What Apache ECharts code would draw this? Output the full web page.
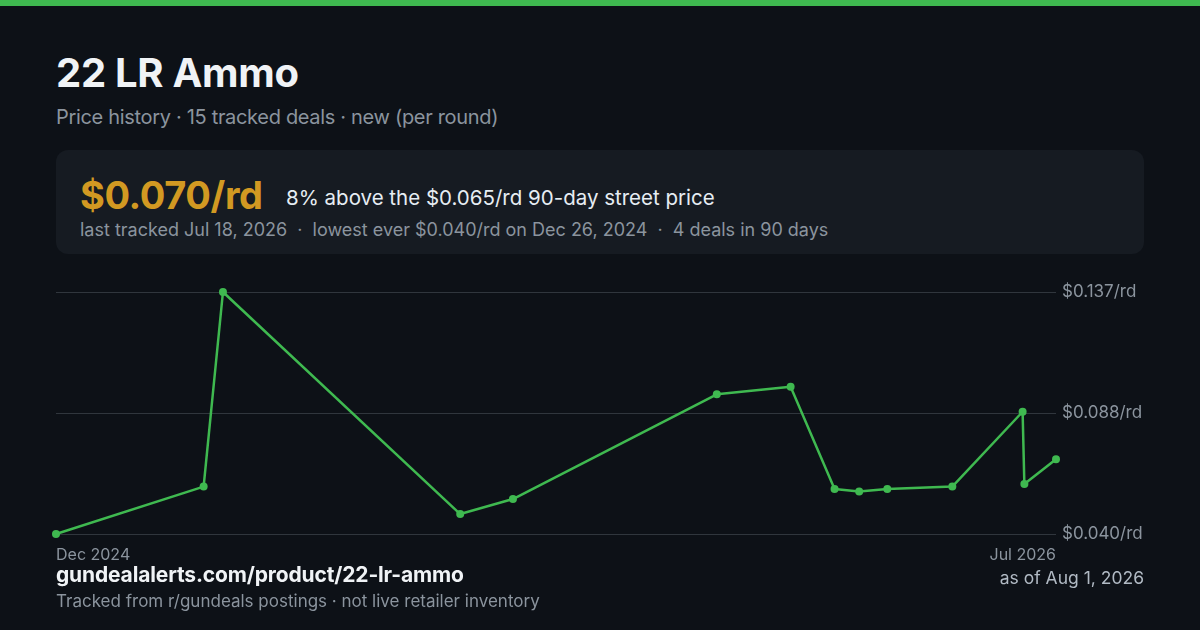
<!DOCTYPE html>
<html>
<head>
<meta charset="utf-8">
<script src="https://cdn.jsdelivr.net/npm/echarts@6/dist/echarts.min.js"></script>
<style>
  html, body { margin: 0; padding: 0; background: #0d1117; }
  body { width: 1200px; height: 630px; position: relative; overflow: hidden; font-family: Inter, "Noto Sans", sans-serif; }
  .topbar { position: absolute; left: 0; top: 0; width: 1200px; height: 6px; background: #3fb950; }
  .abs { position: absolute; white-space: nowrap; }
  #title { left: 56px; top: 48px; font-size: 40px; font-weight: 700; color: #f0f3f6; letter-spacing: -0.3px; }
  #subtitle { left: 56px; top: 105px; font-size: 20px; color: #8b949e; letter-spacing: -0.32px; }
  #card { left: 56px; top: 150px; width: 1088px; height: 104px; background: #161b22; border-radius: 12px; }
  #price { left: 80px; top: 172px; font-size: 38px; font-weight: 700; color: #d29922; letter-spacing: -0.4px; }
  #compare { left: 286px; top: 185px; font-size: 20.5px; color: #e6edf3; }
  #meta { left: 80px; top: 219px; font-size: 18px; color: #8b949e; }
  #url { left: 56px; top: 562px; font-size: 21px; font-weight: 700; color: #f0f3f6; letter-spacing: -0.15px; }
  #asof { right: 56px; top: 567px; font-size: 17.5px; color: #b1bac4; }
  #note { left: 56px; top: 591px; font-size: 17px; color: #8b949e; }
  #chart { position: absolute; left: 0; top: 0; width: 1200px; height: 630px; }
</style>
</head>
<body>
<div class="topbar"></div>
<div class="abs" id="title">22 LR Ammo</div>
<div class="abs" id="subtitle">Price history · 15 tracked deals · new (per round)</div>
<div class="abs" id="card"></div>
<div class="abs" id="price">$0.070/rd</div>
<div class="abs" id="compare">8% above the $0.065/rd 90-day street price</div>
<div class="abs" id="meta">last tracked Jul 18, 2026 &nbsp;·&nbsp; lowest ever $0.040/rd on Dec 26, 2024 &nbsp;·&nbsp; 4 deals in 90 days</div>
<div id="chart"></div>
<div class="abs" id="url">gundealalerts.com/product/22-lr-ammo</div>
<div class="abs" id="asof">as of Aug 1, 2026</div>
<div class="abs" id="note">Tracked from r/gundeals postings · not live retailer inventory</div>

<script>
// deal dates and price per round
var dealDates = [
    '2024-12-26', '2025-03-20', '2025-03-31', '2025-08-13', '2025-09-12',
    '2026-01-06', '2026-02-17', '2026-03-14', '2026-03-28', '2026-04-13',
    '2026-05-20', '2026-06-29', '2026-06-30', '2026-07-18'
];
var dealPrices = [
    0.040, 0.059, 0.137, 0.048, 0.054,
    0.096, 0.099, 0.058, 0.057, 0.058,
    0.059, 0.089, 0.060, 0.070
];
var yTicks = [0.040, 0.0885, 0.137];
var yTickLabels = ['$0.040/rd', '$0.088/rd', '$0.137/rd'];
var xEndLabels = ['Dec 2024', 'Jul 2026'];

document.addEventListener('DOMContentLoaded', function () {
    var chart = echarts.init(document.getElementById('chart'), null, { renderer: 'canvas' });

    var xMin = new Date(dealDates[0] + 'T00:00:00Z').getTime();
    var xMax = new Date(dealDates[dealDates.length - 1] + 'T00:00:00Z').getTime();

    var points = dealDates.map(function (d, i) {
        return [new Date(d + 'T00:00:00Z').getTime(), dealPrices[i]];
    });

    var option = {
        backgroundColor: 'transparent',
        animation: false,
        grid: {
            left: 56,
            right: 144,
            top: 292,
            bottom: 96
        },
        xAxis: {
            type: 'time',
            min: xMin,
            max: xMax,
            axisLine: { show: false },
            axisTick: { show: false },
            splitLine: { show: false },
            axisLabel: {
                showMinLabel: true,
                showMaxLabel: true,
                alignMinLabel: 'left',
                alignMaxLabel: 'right',
                margin: 13,
                color: '#8b949e',
                fontSize: 16,
                fontFamily: 'Inter',
                formatter: function (value) {
                    if (value === xMin) return xEndLabels[0];
                    if (value === xMax) return xEndLabels[1];
                    return '';
                }
            }
        },
        yAxis: {
            type: 'value',
            position: 'right',
            min: yTicks[0],
            max: yTicks[2],
            interval: yTicks[1] - yTicks[0],
            axisLine: { show: false },
            axisTick: { show: false },
            splitLine: { lineStyle: { color: '#30363d', width: 1 } },
            axisLabel: {
                margin: 6,
                color: '#8b949e',
                fontSize: 17,
                fontFamily: 'Inter',
                formatter: function (value, index) {
                    return yTickLabels[index];
                }
            }
        },
        series: [
            {
                type: 'line',
                data: points,
                symbol: 'circle',
                symbolSize: 8,
                showAllSymbol: true,
                lineStyle: { color: '#3fb950', width: 2.5 },
                itemStyle: { color: '#3fb950' }
            }
        ]
    };

    chart.setOption(option);
});
</script>
</body>
</html>
